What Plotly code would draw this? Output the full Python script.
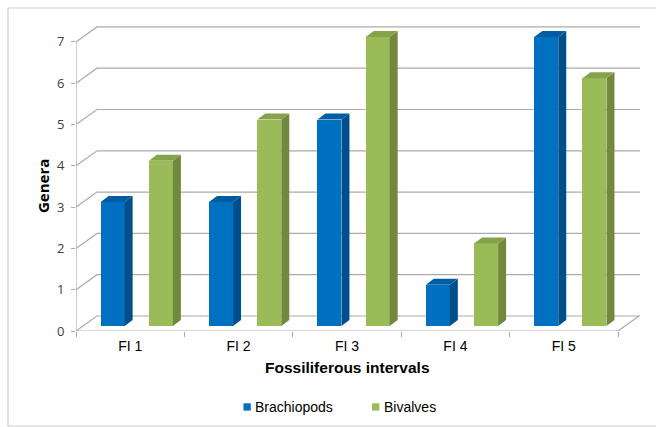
import plotly.graph_objects as go

# Genera counts per fossiliferous interval
intervals = ["FI 1", "FI 2", "FI 3", "FI 4", "FI 5"]
brachiopods = [3, 3, 5, 1, 7]
bivalves = [4, 5, 7, 2, 6]
y_ticks = [0, 1, 2, 3, 4, 5, 6, 7]

# Colours: front, side, top faces
BLUE = ("#0070C0", "#004F8A", "#005DA3")
GREEN = ("#9BBB59", "#71893F", "#86A34B")
GRID = "#ABABAB"
FONT = "Liberation Sans, Arial"

# Pseudo-3D geometry in axis units
W, H = 659, 427
L, R, T, B = 76, 19, 25, 96
px_x = 108.4            # pixels per category
px_y = 41.3             # pixels per genus
x_max = (W - L - R) / px_x
y_max = (H - T - B) / px_y
wall_dx, wall_dy = 21 / px_x, 15 / px_y     # back wall offset
bar_dy = 5 / px_y                           # bar plane lift above the floor edge
dep_dx, dep_dy = 8 / px_x, 6 / px_y         # bar depth
bar_w = 24 / px_x
pos = {"Brachiopods": 0.338, "Bivalves": 0.783}   # bar centres within a category


def px2paper_x(p):
    return (p - L) / (W - L - R)


def px2paper_y(p):
    return (H - B - p) / (H - T - B)


fig = go.Figure()
shapes = []
annotations = []

# floor and back-wall grid lines
for v in y_ticks:
    shapes.append(dict(type="path", layer="below",
                       path=f"M 0,{v} L {wall_dx},{v + wall_dy} L {x_max},{v + wall_dy}",
                       line=dict(color=GRID, width=1.2)))
# floor right edge
shapes.append(dict(type="line", layer="below", x0=len(intervals), y0=0,
                   x1=len(intervals) + wall_dx, y1=wall_dy,
                   line=dict(color=GRID, width=1.2)))
# front axis lines
shapes.append(dict(type="line", layer="below", x0=0, y0=0, x1=len(intervals), y1=0,
                   line=dict(color=GRID, width=1.2)))
shapes.append(dict(type="line", layer="below", x0=0, y0=0, x1=0, y1=max(y_ticks),
                   line=dict(color=GRID, width=1.2)))

series = (("Brachiopods", brachiopods, BLUE), ("Bivalves", bivalves, GREEN))
for name, vals, col in series:
    xs = [i + pos[name] for i in range(len(intervals))]
    fig.add_trace(go.Bar(x=xs, y=vals, base=bar_dy, width=bar_w, name=name,
                         showlegend=False,
                         marker=dict(color=col[0], line=dict(width=0))))
    for xc, v in zip(xs, vals):
        xl, xr = xc - bar_w / 2, xc + bar_w / 2
        y0, y1 = bar_dy, bar_dy + v
        shapes.append(dict(type="path", layer="above", fillcolor=col[1], line=dict(width=0),
                           path=f"M {xr},{y0} L {xr + dep_dx},{y0 + dep_dy} "
                                f"L {xr + dep_dx},{y1 + dep_dy} L {xr},{y1} Z"))
        shapes.append(dict(type="path", layer="above", fillcolor=col[2], line=dict(width=0),
                           path=f"M {xl},{y1} L {xl + dep_dx},{y1 + dep_dy} "
                                f"L {xr + dep_dx},{y1 + dep_dy} L {xr},{y1} Z"))

# legend: small square swatch followed by the series name
legend_x = {"Brachiopods": 243.5, "Bivalves": 372}
for name, vals, col in series:
    lx = legend_x[name]
    shapes.append(dict(type="rect", xref="paper", yref="paper",
                       x0=px2paper_x(lx), x1=px2paper_x(lx + 7.3),
                       y0=px2paper_y(403.3), y1=px2paper_y(410.6),
                       fillcolor=col[0], line=dict(width=0)))
    annotations.append(dict(text=name, x=px2paper_x(lx + 9.5), xref="paper",
                            y=px2paper_y(407), yref="paper", xanchor="left",
                            yanchor="middle", showarrow=False,
                            font=dict(family=FONT, size=14, color="#000000")))

# chart frame (open on the right)
frame = dict(color="#CFCFCF", width=1.2)
for x0, y0, x1, y1 in ((8, 8, 656, 8), (8, 8, 8, 426), (8, 426, 656, 426)):
    shapes.append(dict(type="line", xref="paper", yref="paper",
                       x0=px2paper_x(x0), y0=px2paper_y(y0),
                       x1=px2paper_x(x1), y1=px2paper_y(y1), line=frame))

annotations += [
    dict(text="<b>Fossiliferous intervals</b>", x=len(intervals) / 2, xref="x",
         y=px2paper_y(367), yref="paper", showarrow=False,
         xanchor="center", yanchor="middle",
         font=dict(family=FONT, size=15.5, color="#000000")),
    dict(text="<b>Genera</b>", x=px2paper_x(43), xref="paper",
         y=px2paper_y(186), yref="paper", showarrow=False, textangle=-90,
         xanchor="center", yanchor="middle",
         font=dict(family="Open Sans", size=15, color="#000000")),
]

fig.update_layout(
    width=W, height=H,
    margin=dict(l=L, r=R, t=T, b=B, pad=0, autoexpand=False),
    paper_bgcolor="white", plot_bgcolor="white",
    barmode="overlay", bargap=0,
    shapes=shapes, annotations=annotations,
    showlegend=False,
    xaxis=dict(range=[0, x_max], showgrid=False, zeroline=False, showline=False,
               tickvals=[i + 0.5 for i in range(len(intervals))], ticktext=intervals,
               ticks="", ticklabelstandoff=5,
               tickfont=dict(family=FONT, size=14, color="#000000"),
               minor=dict(tickvals=list(range(len(intervals) + 1)), ticks="outside",
                          ticklen=5, tickcolor=GRID, tickwidth=1.2),
               fixedrange=True),
    yaxis=dict(range=[0, y_max], showgrid=False, zeroline=False, showline=False,
               tickvals=y_ticks, ticks="outside", ticklen=4, tickcolor=GRID, tickwidth=1.2,
               ticklabelstandoff=4,
               tickfont=dict(family="Open Sans", size=13, color="#404040"),
               fixedrange=True),
)

fig.write_html("out.html")
